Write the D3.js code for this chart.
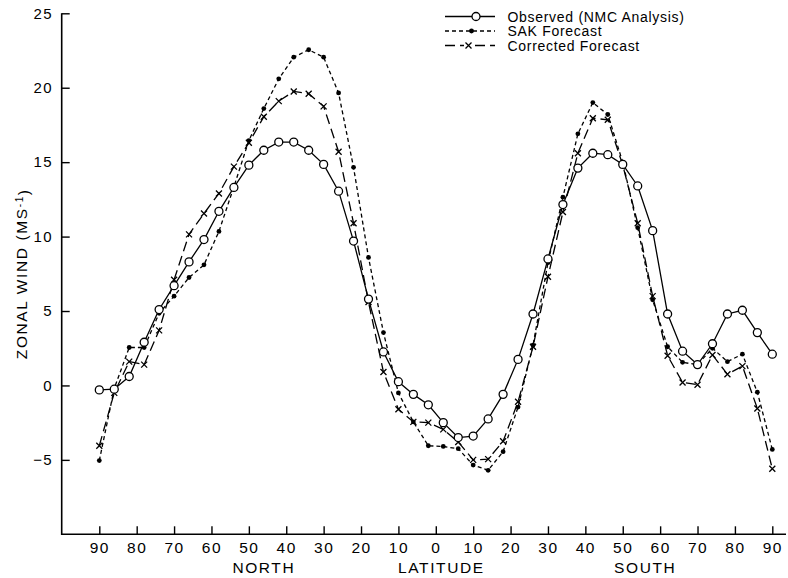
<!DOCTYPE html>
<html>
<head>
<meta charset="utf-8">
<script src="https://cdn.jsdelivr.net/npm/d3@7"></script>
<style>
  html, body { margin: 0; padding: 0; background: #fff; }
  svg { display: block; }
  text { font-family: "Liberation Sans", Arial, Helvetica, sans-serif; fill: #000; }
</style>
</head>
<body>
<svg id="chart" width="788" height="578"></svg>
<script>
// Latitude (positive = North, negative = South)
const latitudes = [90, 86, 82, 78, 74, 70, 66, 62, 58, 54, 50, 46, 42, 38, 34, 30, 26, 22, 18, 14, 10, 6, 2,
  -2, -6, -10, -14, -18, -22, -26, -30, -34, -38, -42, -46, -50, -54, -58, -62, -66, -70, -74, -78, -82, -86, -90];

const observed = [-0.3, -0.25, 0.6, 2.9, 5.1, 6.7, 8.3, 9.8, 11.7, 13.3, 14.8, 15.8, 16.35, 16.35, 15.8, 14.85,
  13.05, 9.7, 5.8, 2.25, 0.25, -0.6, -1.3, -2.5, -3.5, -3.4, -2.25, -0.6, 1.75, 4.8, 8.5, 12.15, 14.6, 15.6,
  15.5, 14.85, 13.4, 10.4, 4.8, 2.3, 1.4, 2.8, 4.8, 5.05, 3.55, 2.1];

const sakForecast = [-5.05, -0.2, 2.55, 2.55, 4.85, 6.0, 7.25, 8.1, 10.35, 13.35, 16.45, 18.6, 20.6, 22.05, 22.55,
  22.05, 19.65, 14.65, 8.6, 3.55, -0.5, -2.45, -4.05, -4.1, -4.25, -5.35, -5.7, -4.45, -1.45, 2.7, 8.25, 12.65,
  16.9, 19.0, 18.2, 15.0, 10.6, 5.75, 2.6, 1.55, 1.4, 2.5, 1.6, 2.1, -0.45, -4.3];

const correctedForecast = [-4.05, -0.5, 1.6, 1.4, 3.7, 7.1, 10.15, 11.55, 12.9, 14.7, 16.3, 18.05, 19.1, 19.75,
  19.6, 18.75, 15.7, 10.9, 5.6, 0.9, -1.6, -2.45, -2.5, -2.95, -3.8, -5.0, -4.95, -3.75, -1.1, 2.6, 7.3, 11.65,
  15.6, 17.95, 17.85, 14.8, 10.9, 6.0, 2.0, 0.2, 0.05, 2.05, 0.75, 1.3, -1.55, -5.6];

const xTickValues = [90, 80, 70, 60, 50, 40, 30, 20, 10, 0, -10, -20, -30, -40, -50, -60, -70, -80, -90];
const yTickValues = [-5, 0, 5, 10, 15, 20, 25];

const legendLabels = ["Observed (NMC Analysis)", "SAK Forecast", "Corrected Forecast"];

// ---------------------------------------------------------------
const svg = d3.select("#chart");
const W = 788, H = 578;
const axisLeftX = 61.7, axisBottomY = 534.3;

const x = d3.scaleLinear().domain([90, -90]).range([99.3, 772.3]);
const y = d3.scaleLinear().domain([-10, 25]).range([axisBottomY, 13.3]);

// Axes
const yAxis = d3.axisLeft(y).tickValues(yTickValues).tickSize(-8).tickSizeOuter(0).tickPadding(9)
  .tickFormat(d => d3.format("d")(d));
const gy = svg.append("g").attr("transform", `translate(${axisLeftX},0)`).call(yAxis);
gy.select(".domain").remove();
gy.selectAll(".tick line").attr("stroke", "#000").attr("stroke-width", 1.4);
gy.selectAll(".tick text").style("font-size", "15px").style("letter-spacing", "1.2px").attr("fill", "#000");

const xAxis = d3.axisBottom(x).tickValues(xTickValues).tickSize(-8).tickSizeOuter(0).tickPadding(8)
  .tickFormat(d => String(Math.abs(d)));
const gx = svg.append("g").attr("transform", `translate(0,${axisBottomY})`).call(xAxis);
gx.select(".domain").remove();
gx.selectAll(".tick line").attr("stroke", "#000").attr("stroke-width", 1.4);
gx.selectAll(".tick text").style("font-size", "15.5px").style("letter-spacing", "1.5px").attr("fill", "#000");

// Axis lines
svg.append("line").attr("x1", axisLeftX).attr("x2", axisLeftX)
  .attr("y1", y(25)).attr("y2", axisBottomY + 0.7).attr("stroke", "#000").attr("stroke-width", 1.6);
svg.append("line").attr("x1", axisLeftX).attr("x2", W - 2)
  .attr("y1", axisBottomY).attr("y2", axisBottomY).attr("stroke", "#000").attr("stroke-width", 1.6);

// Axis titles
const xtStyle = t => t.style("font-size", "15.5px").style("letter-spacing", "1.6px").attr("text-anchor", "middle");
svg.append("text").attr("x", x(46)).attr("y", 573).text("NORTH").call(xtStyle);
svg.append("text").attr("x", x(-1.5)).attr("y", 573).text("LATITUDE").call(xtStyle);
svg.append("text").attr("x", x(-56)).attr("y", 573).text("SOUTH").call(xtStyle);

const yt = svg.append("text").attr("transform", `translate(27,${y(7.5)}) rotate(-90)`)
  .attr("text-anchor", "middle").style("font-size", "15.5px").style("letter-spacing", "1.6px");
yt.append("tspan").text("ZONAL WIND (MS");
yt.append("tspan").attr("dy", "-0.45em").style("font-size", "10px").text("-1");
yt.append("tspan").attr("dy", "0.45em").text(")");

// Series
const series = [
  { name: legendLabels[0], values: observed, dash: null, marker: "circle" },
  { name: legendLabels[1], values: sakForecast, dash: "4,3", marker: "dot" },
  { name: legendLabels[2], values: correctedForecast, dash: "10,5", marker: "x" }
];

const line = d3.line().x((d, i) => x(latitudes[i])).y(d => y(d));

function drawMarker(g, kind, cx, cy) {
  if (kind === "circle") {
    g.append("circle").attr("cx", cx).attr("cy", cy).attr("r", 4)
      .attr("fill", "#fff").attr("stroke", "#000").attr("stroke-width", 1.3);
  } else if (kind === "dot") {
    g.append("circle").attr("cx", cx).attr("cy", cy).attr("r", 2.4).attr("fill", "#000");
  } else {
    const s = 3;
    g.append("path").attr("d", `M${cx - s},${cy - s}L${cx + s},${cy + s}M${cx + s},${cy - s}L${cx - s},${cy + s}`)
      .attr("stroke", "#000").attr("stroke-width", 1.3).attr("fill", "none");
  }
}

// draw lines: forecasts first, observed on top
[series[2], series[1], series[0]].forEach(s => {
  svg.append("path").datum(s.values).attr("d", line)
    .attr("fill", "none").attr("stroke", "#000").attr("stroke-width", 1.3)
    .attr("stroke-dasharray", s.dash);
});
[series[2], series[1], series[0]].forEach(s => {
  const g = svg.append("g");
  s.values.forEach((v, i) => drawMarker(g, s.marker, x(latitudes[i]), y(v)));
});

// Legend
const legendRowsY = [16.5, 31, 45.5];
series.forEach((s, i) => {
  const g = svg.append("g");
  const ly = legendRowsY[i];
  g.append("line").attr("x1", 445).attr("x2", 495).attr("y1", ly).attr("y2", ly)
    .attr("stroke", "#000").attr("stroke-width", 1.3).attr("stroke-dasharray", s.dash);
  if (s.marker === "x") {
    g.append("rect").attr("x", 464).attr("y", ly - 4).attr("width", 9).attr("height", 8).attr("fill", "#fff");
  }
  drawMarker(g, s.marker, i === 0 ? 476 : (i === 1 ? 471.5 : 468.5), ly);
  g.append("text").attr("x", 507.5).attr("y", ly + 5).style("font-size", "14px")
    .style("letter-spacing", "0.7px").text(s.name);
});
</script>
</body>
</html>
